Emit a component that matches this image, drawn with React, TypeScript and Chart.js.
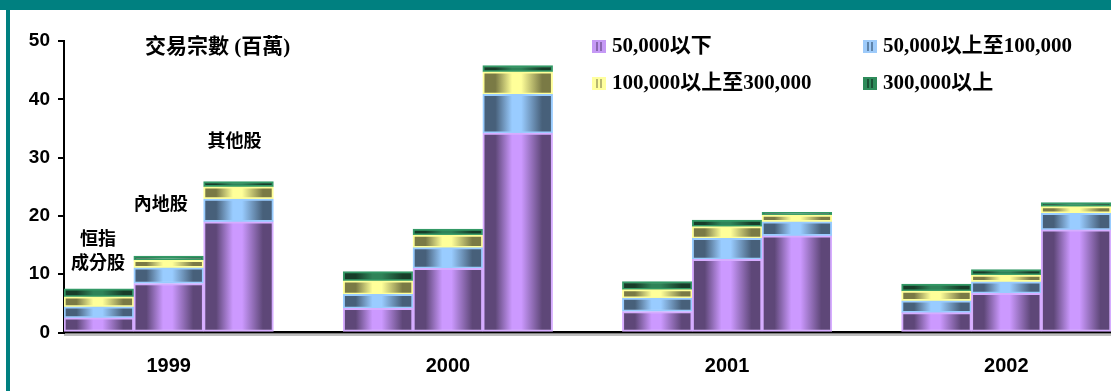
import React, { useEffect, useRef } from 'react';
import { Chart, registerables } from 'chart.js';

Chart.register(...registerables);

// ---- data ----
const years = ['1999', '2000', '2001', '2002'];
const stockTypes = ['恒指成分股', '內地股', '其他股'];
const sizeBands = ['50,000以下', '50,000以上至100,000', '100,000以上至300,000', '300,000以上'];
// values (millions of trades), ordered year by year: 恒指成分股, 內地股, 其他股
const below50k = [2.5, 8.4, 19.0, 4.15, 11.0, 34.2, 3.6, 12.55, 16.6, 3.4, 6.7, 17.6];
const from50kTo100k = [1.9, 2.7, 3.9, 2.4, 3.55, 6.65, 2.3, 3.6, 2.4, 2.05, 2.0, 2.85];
const from100kTo300k = [1.7, 1.3, 2.1, 2.3, 2.15, 3.85, 1.45, 2.0, 1.15, 1.65, 1.15, 1.15];
const above300k = [1.4, 0.7, 0.9, 1.6, 1.05, 1.1, 1.4, 1.15, 0.45, 1.2, 0.95, 0.7];
const yTicks = [0, 10, 20, 30, 40, 50];
const axisTitle = '交易宗數 (百萬)';

// ---- build category layout: 3 bars per year, one empty slot between years ----
const labels: string[] = [];
const barSlots: number[] = [];
years.forEach((yr, yi) => {
  stockTypes.forEach((_, si) => {
    labels.push(si === 1 ? yr : '');
    barSlots.push(labels.length - 1);
  });
  if (yi < years.length - 1) labels.push('');
});
const spread = (vals: number[]) => {
  const out: (number | null)[] = labels.map(() => null);
  vals.forEach((v, i) => (out[barSlots[i]] = v));
  return out;
};

const palettes = [
  { light: '#cc99ff', dark: '#5e4778', border: '#d6adff', key: '#c599f5', stripe: '#8a66b0' },
  { light: '#99ccff', dark: '#47607a', border: '#99ccff', key: '#9ecbfa', stripe: '#5f84aa' },
  { light: '#ffff99', dark: '#7a7a45', border: '#ffff99', key: '#ffff9e', stripe: '#b8b870' },
  { light: '#2f8358', dark: '#173d29', border: '#339966', key: '#2e8b5a', stripe: '#1b5236' },
];
const seriesValues = [below50k, from50kTo100k, from100kTo300k, above300k];

const gradientFor = (p: typeof palettes[number]) => (ctx: any) => {
  const chart = ctx.chart;
  const xs = chart.scales?.x;
  if (!chart.chartArea || !xs) return p.light;
  const cx = xs.getPixelForValue(ctx.dataIndex);
  const w = xs.width / labels.length;
  const g = chart.ctx.createLinearGradient(cx - w / 2, 0, cx + w / 2, 0);
  g.addColorStop(0, p.dark);
  g.addColorStop(0.18, p.dark);
  g.addColorStop(0.42, p.light);
  g.addColorStop(0.55, p.light);
  g.addColorStop(0.85, p.dark);
  g.addColorStop(1, p.dark);
  return g;
};

const CJK = '"Noto Sans CJK TC"';

const decor = {
  id: 'decor',
  beforeDraw(chart: any) {
    const c = chart.ctx;
    c.save();
    c.fillStyle = '#ffffff';
    c.fillRect(0, 0, chart.width, chart.height);
    c.fillStyle = '#008080';
    c.fillRect(0, 0, chart.width, 10);
    c.fillRect(6, 10, 4, chart.height - 10);
    c.restore();
  },
  afterDraw(chart: any) {
    const c = chart.ctx;
    const xs = chart.scales.x;
    const ys = chart.scales.y;
    const area = chart.chartArea;
    c.save();
    // floor shadow under the x axis
    c.strokeStyle = '#a8a8a8';
    c.lineWidth = 1.5;
    c.beginPath();
    c.moveTo(area.left, area.bottom + 2.5);
    c.lineTo(area.right, area.bottom + 2.5);
    c.stroke();

    // axis title
    c.fillStyle = '#000';
    c.textBaseline = 'middle';
    c.textAlign = 'left';
    c.font = `bold 21px "Liberation Serif", ${CJK}`;
    c.fillText(axisTitle, 145, 48);

    // stock type labels over the first year's bars
    c.font = `bold 18px ${CJK}`;
    c.textAlign = 'center';
    const stockLines = [['恒指', '成分股'], [stockTypes[1]], [stockTypes[2]]];
    const stockY = [[16.2, 12.1], [22.2], [33.0]];
    const stockDx = [-1, -8, -4];
    stockLines.forEach((lines, si) => {
      const x = xs.getPixelForValue(barSlots[si]) + stockDx[si];
      lines.forEach((t, li) => c.fillText(t, x, ys.getPixelForValue(stockY[si][li])));
    });

    // legend (two columns, two rows)
    c.font = `bold 21px "Liberation Serif", ${CJK}`;
    c.textAlign = 'left';
    const colX = [592, 863];
    const rowY = [40, 77];
    sizeBands.forEach((name, i) => {
      const p = palettes[i];
      const x = colX[i % 2];
      const y = rowY[Math.floor(i / 2)];
      c.fillStyle = p.key;
      c.fillRect(x, y, 14, 13);
      c.fillStyle = p.stripe;
      c.fillRect(x + 4, y + 2, 2, 9);
      c.fillRect(x + 8, y + 2, 2, 9);
      c.fillStyle = '#000';
      c.fillText(name, x + 20, y + 7);
    });
    c.restore();
  },
};

export default function App() {
  const ref = useRef<HTMLCanvasElement>(null);
  useEffect(() => {
    if (!ref.current) return;
    const chart = new Chart(ref.current, {
      type: 'bar',
      data: {
        labels,
        datasets: seriesValues.map((vals, i) => ({
          label: sizeBands[i],
          data: spread(vals),
          backgroundColor: gradientFor(palettes[i]),
          borderColor: palettes[i].border,
          borderWidth: 2,
          borderSkipped: false,
          categoryPercentage: 1,
          barPercentage: 1,
        })),
      },
      options: {
        animation: false,
        responsive: false,
        devicePixelRatio: 1,
        layout: { padding: { left: 0, top: 41, right: 0, bottom: 0 } },
        plugins: { legend: { display: false }, tooltip: { enabled: false } },
        scales: {
          x: {
            stacked: true,
            offset: true,
            grid: { display: false },
            border: { display: true, color: '#000', width: 2.5 },
            ticks: {
              autoSkip: false,
              maxRotation: 0,
              color: '#000',
              padding: 14,
              font: { family: '"Liberation Sans", Arial', size: 20, weight: 'bold' },
            },
            afterFit: (s: any) => { s.height = 58.5; },
          },
          y: {
            stacked: true,
            min: 0,
            max: 50,
            afterBuildTicks: (s: any) => { s.ticks = yTicks.map((v) => ({ value: v })); },
            grid: { drawOnChartArea: false, drawTicks: true, tickLength: 6, color: '#000', lineWidth: 2 },
            border: { display: true, color: '#000', width: 2 },
            ticks: {
              color: '#000',
              padding: 8,
              font: { family: '"Liberation Sans", Arial', size: 19, weight: 'bold' },
            },
            afterFit: (s: any) => { s.width = 64; },
          },
        },
      },
      plugins: [decor],
    });
    return () => chart.destroy();
  }, []);
  return (
    <div style={{ position: 'absolute', left: 0, top: 0, width: 1111, height: 391 }}>
      <canvas ref={ref} width={1111} height={391} />
    </div>
  );
}
